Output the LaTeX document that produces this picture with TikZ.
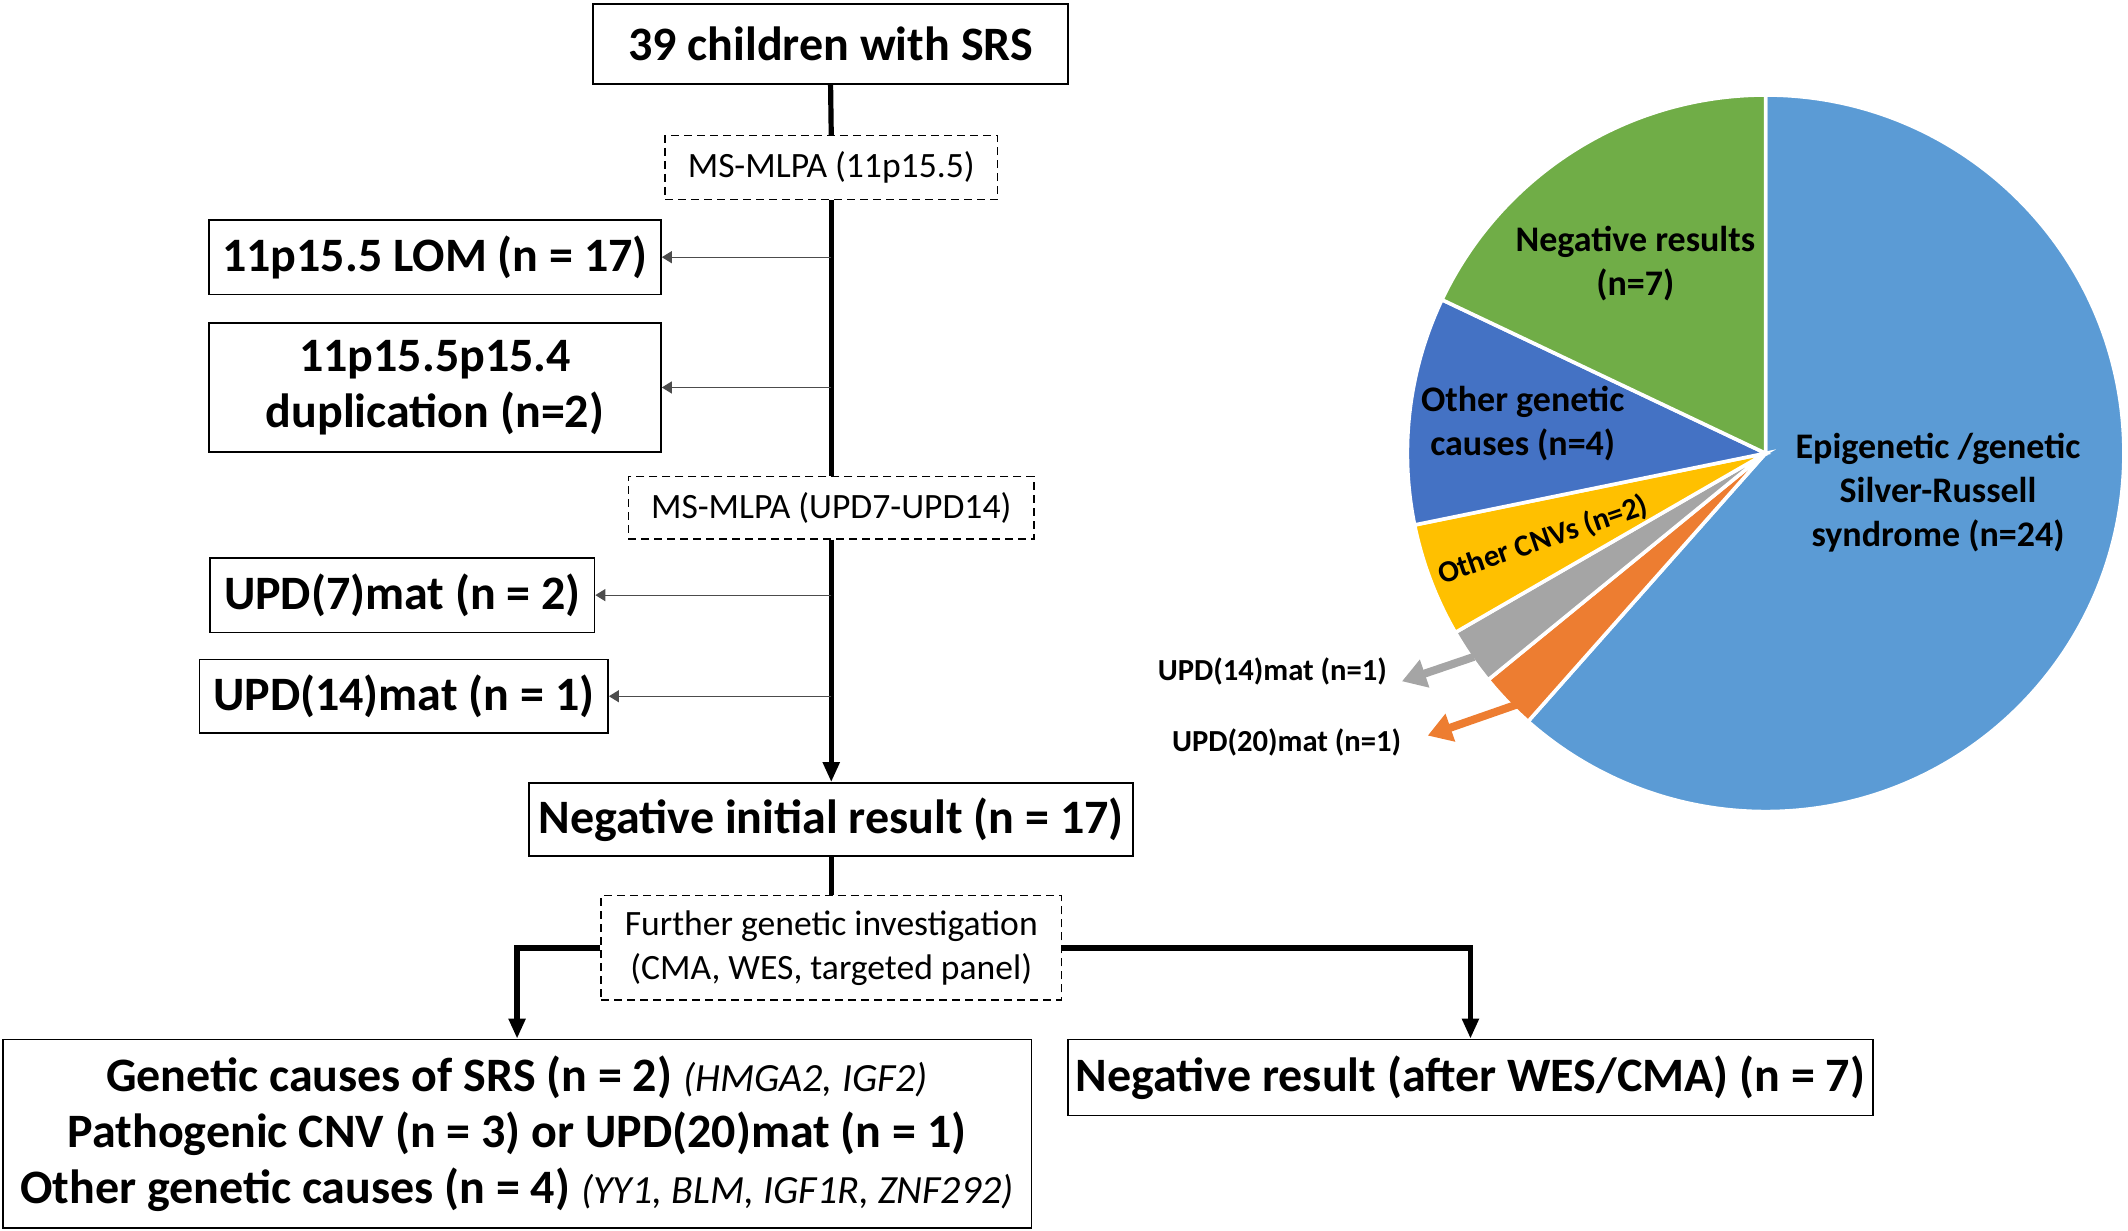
\documentclass[tikz,border=0pt]{standalone}
\usepackage{fontspec}
\setmainfont{Carlito}
\usetikzlibrary{arrows.meta,calc}
\definecolor{pblue}{HTML}{5B9BD5}
\definecolor{porange}{HTML}{ED7D31}
\definecolor{pgray}{HTML}{A5A5A5}
\definecolor{pyellow}{HTML}{FFC000}
\definecolor{pdblue}{HTML}{4472C4}
\definecolor{pgreen}{HTML}{70AD47}
\newcommand\pieslice[3]{\fill[#1, draw=white, line width=1.8pt] (pc) -- ++(#2:179.14pt) arc[start angle=#2, end angle=#3, radius=179.14pt] -- cycle;}
\newcommand\genefont{\mdseries\itshape\fontsize{20}{27}\selectfont}
\begin{document}
\begin{tikzpicture}[x=0.67857pt, y=-0.67857pt,
  sz/.style 2 args={minimum width=#1*0.67857pt, minimum height=#2*0.67857pt},
  box/.style={draw, line width=0.9pt, inner sep=0pt, align=center, font=\bfseries\fontsize{24}{28}\selectfont},
  dbox/.style={draw, line width=0.75pt, dash pattern=on 4pt off 2.5pt, inner sep=0pt, align=center, font=\fontsize{17.8}{22}\selectfont},
  trunk/.style={line width=2.6pt},
  side/.style={line width=0.6pt, draw=black!70, -{Triangle[length=5pt,width=6pt]}},
  bigarrow/.style={line width=2.6pt, -{Triangle[length=10pt,width=8pt]}},
  branch/.style={line width=2.6pt, -{Triangle[length=10pt,width=8pt]}},
  plabel/.style={font=\bfseries\fontsize{18}{22}\selectfont, align=center, inner sep=0pt},
  slabel/.style={font=\bfseries\fontsize{15.3}{17}\selectfont, inner sep=0pt},
  leader/.style={line width=4pt, -{Triangle[length=12pt,width=14pt]}},
]
\useasboundingbox (0,0) rectangle (1568,907);

% flow chart
\node[box, sz={350}{59}] (top) at (612,32.5) {39 children with SRS};
\node[dbox, sz={245}{47}] (ms1) at (612.5,123.5) {MS-MLPA (11p15.5)};
\node[box, sz={333}{55}] (lom) at (320.5,189.5) {11p15.5 LOM (n = 17)};
\node[box, sz={333}{95}] (dup) at (320.5,285.5) {11p15.5p15.4\\duplication (n=2)};
\node[dbox, sz={299}{46}] (ms2) at (612.5,374) {MS-MLPA (UPD7-UPD14)};
\node[box, sz={283}{55}] (upd7) at (296.5,438.5) {UPD(7)mat (n = 2)};
\node[box, sz={301}{54}] (upd14) at (297.5,513) {UPD(14)mat (n = 1)};
\node[box, sz={445}{54}] (neg) at (612.5,604) {Negative initial result (n = 17)};
\node[dbox, sz={339}{77}] (fur) at (612.5,698.5) {Further genetic investigation\\(CMA, WES, targeted panel)};
\node[box, sz={758}{139}] (gen) at (381,835.5)
  {Genetic causes of SRS (n = 2) {\genefont (HMGA2, IGF2)}\\
   Pathogenic CNV (n = 3) or UPD(20)mat (n = 1)\\
   Other genetic causes (n = 4) {\genefont (YY1, BLM, IGF1R, ZNF292)}};
\node[box, sz={593}{56}] (negwes) at (1083.5,794) {Negative result (after WES/CMA) (n = 7)};

\draw[trunk] (top.south) -- (ms1.north);
\draw[trunk] (ms1.south) -- (ms2.north);
\draw[bigarrow] (ms2.south) -- (neg.north);
\draw[side] (ms1.south |- lom.east) -- (lom.east);
\draw[side] (ms1.south |- dup.east) -- (dup.east);
\draw[side] (ms2.south |- upd7.east) -- (upd7.east);
\draw[side] (ms2.south |- upd14.east) -- (upd14.east);
\draw[trunk] (neg.south) -- (fur.north);
\draw[branch] (fur.west) -| (gen.north);
\draw[branch] (fur.east) -| (negwes.north);

% pie chart
\coordinate (pc) at (1301,334);
\pieslice{pblue}{90}{-131.54}
\pieslice{porange}{-131.54}{-140.77}
\pieslice{pgray}{-140.77}{-150}
\pieslice{pyellow}{-150}{-168.46}
\pieslice{pdblue}{-168.46}{-205.38}
\pieslice{pgreen}{-205.38}{-270}

\node[plabel] (lneg) at (1205,194.5) {Negative results\\(n=7)};
\node[plabel] (loth) at (1122,312) {Other genetic\\causes (n=4)};
\node[plabel] (lepi) at (1428,363) {Epigenetic /genetic\\Silver-Russell\\syndrome (n=24)};
\node[slabel, rotate=19] (lcnv) at (1137,398) {Other CNVs (n=2)};
\node[slabel] (u14) at (937.5,495) {UPD(14)mat (n=1)};
\node[slabel] (u20) at (948,547) {UPD(20)mat (n=1)};

\coordinate (g0) at (1086,484);
\coordinate (g1) at (1033,502);
\coordinate (o0) at (1118,519);
\coordinate (o1) at (1052,542);
\draw[leader, pgray] (g0) -- (g1);
\draw[leader, porange] (o0) -- (o1);
\end{tikzpicture}
\end{document}
